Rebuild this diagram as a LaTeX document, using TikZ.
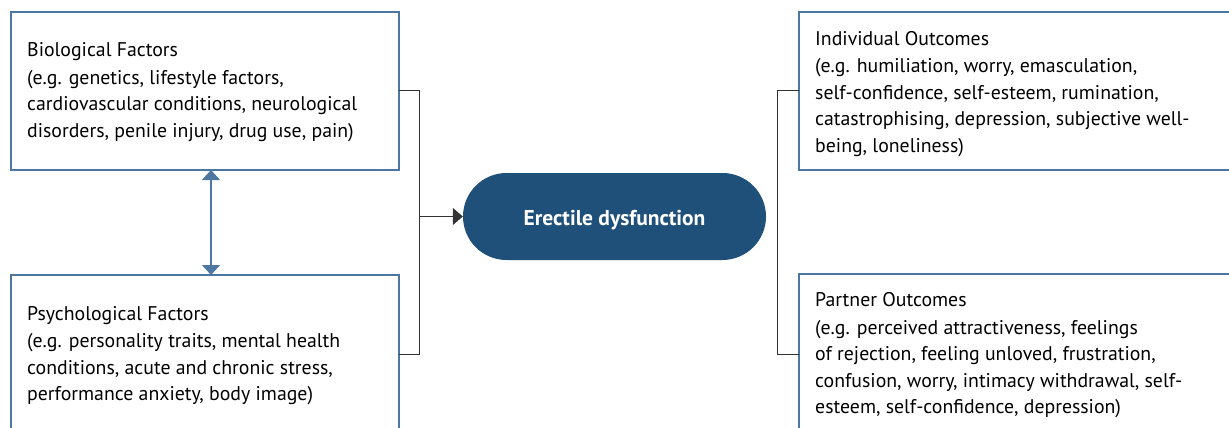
\documentclass[tikz,border=0pt]{standalone}
\usepackage{fontspec}
\setmainfont{PT Sans}
\usetikzlibrary{arrows.meta,shapes.misc}
\definecolor{boxblue}{HTML}{4D77A0}
\definecolor{pillblue}{HTML}{1F5079}
\definecolor{linegray}{HTML}{333333}
\tikzset{
  fbox/.style={draw=boxblue, line width=1.2pt, rectangle, inner sep=0pt, outer sep=0pt, anchor=north west},
  btext/.style={anchor=base west, align=left, inner sep=0pt, font=\fontsize{19.8}{26.5}\selectfont},
  pill/.style={rounded rectangle, fill=pillblue, draw=none, minimum width=303pt, minimum height=87pt, text=white, font=\fontsize{21.5}{24}\selectfont\bfseries, inner sep=0pt, text height=17pt, text depth=0pt},
  bracket/.style={draw=linegray, line width=1pt},
}
\begin{document}
\begin{tikzpicture}[x=1pt,y=-1pt]
\useasboundingbox (0,0) rectangle (1229,428);
\clip (0,0) rectangle (1229,428);
\node[fbox, minimum width=388pt, minimum height=158pt] (bio) at (11,12) {};
\node[fbox, minimum width=388pt, minimum height=200pt] (psy) at (11,275) {};
\node[fbox, minimum width=450pt, minimum height=158pt] (ind) at (799,12) {};
\node[fbox, minimum width=450pt, minimum height=200pt] (par) at (799,274) {};
\node[pill] (ed) at (614.5,216.5) {Erectile dysfunction};

\node[btext] (biot) at (27,137) {Biological Factors\\[1pt](e.g. genetics, lifestyle factors,\\cardiovascular conditions, neurological\\disorders, penile injury, drug use, pain)};
\node[btext] (psyt) at (27,400.5) {Psychological Factors\\[1pt](e.g. personality traits, mental health\\conditions, acute and chronic stress,\\performance anxiety, body image)};
\node[btext] (indt) at (815,152) {Individual Outcomes\\[1pt](e.g. humiliation, worry, emasculation,\\self-confidence, self-esteem, rumination,\\catastrophising, depression, subjective well-\\being, loneliness)};
\node[btext] (part) at (815,413.7) {Partner Outcomes\\[1pt](e.g. perceived attractiveness, feelings\\of rejection, feeling unloved, frustration,\\confusion, worry, intimacy withdrawal, self-\\esteem, self-confidence, depression)};

\coordinate (lt) at (419,90);
\coordinate (lb) at (419,354.5);
\coordinate (rt) at (777.5,90);
\coordinate (rb) at (777.5,354.5);
\draw[bracket] (bio.east |- lt) -- (lt) -- (lb) -- (psy.east |- lb);
\draw[bracket] (ind.west |- rt) -- (rt) -- (rb) -- (par.west |- rb);
\draw[bracket, -{Triangle[length=10pt, width=17pt]}] (lt |- ed.west) -- (ed.west);
\draw[draw=boxblue, line width=1.3pt, {Triangle[length=10pt, width=18pt]}-{Triangle[length=10pt, width=18pt]}] (bio.south -| 211,0) -- (psy.north -| 211,0);
\end{tikzpicture}
\end{document}
